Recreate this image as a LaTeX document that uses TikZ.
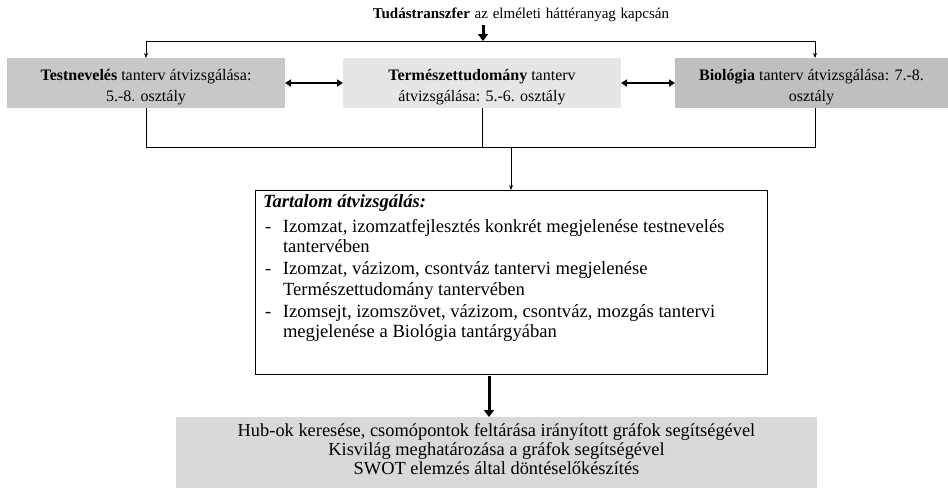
\documentclass[tikz,border=0pt]{standalone}
\usepackage{fontspec}
\setmainfont{Liberation Serif}
\usetikzlibrary{arrows.meta}
\definecolor{tesigray}{RGB}{200,200,200}
\definecolor{termgray}{RGB}{230,230,230}
\definecolor{biogray}{RGB}{191,191,191}
\definecolor{elemgray}{RGB}{217,217,217}
\newcommand{\tetel}[1]{\noindent\hangindent=20pt\hangafter=1\makebox[20pt][l]{\hspace{2pt}-}#1\par}
\begin{document}
\begin{tikzpicture}[x=1pt, y=-1pt,
            every node/.style={inner sep=0pt, outer sep=0pt},
            box/.style={rectangle, align=center, minimum height=50pt, text height=40pt, text depth=4pt,
                        font=\fontsize{16}{21}\selectfont},
            thin line/.style={draw, line width=0.8pt, -{Stealth[length=5pt, width=4pt]}},
            fat arrow/.style={draw, line width=3pt, -{Triangle[length=7pt, width=10pt]}},
            both arrow/.style={draw, line width=1.6pt, {Triangle[length=6pt, width=7pt]}-{Triangle[length=6pt, width=7pt]}}]
        \useasboundingbox (0,0) rectangle (948,488);
        \node [font=\fontsize{15}{18}\selectfont] (title) at (521,15)
            {\spaceskip=4.8pt\relax\textbf{Tudástranszfer} az elméleti háttéranyag kapcsán};
        \node [box, fill=tesigray, minimum width=278pt] (tesi) at (146,83)
            {\textbf{Testnevelés} tanterv átvizsgálása:\\5.-8. osztály};
        \node [box, fill=termgray, minimum width=278pt] (termtud) at (482,83)
            {\textbf{Természettudomány} tanterv\\átvizsgálása: 5.-6. osztály};
        \node [box, fill=biogray, minimum width=273pt] (bio) at (811.5,83)
            {\textbf{Biológia} tanterv átvizsgálása: 7.-8.\\osztály};
        \node [draw, line width=0.8pt, fill=white, anchor=north west, inner xsep=8pt,
               font=\fontsize{18.6}{20.5}\selectfont] (tartalom) at (255,190)
            {\begin{minipage}[t][184pt][t]{496pt}\parskip=0pt
             \vspace*{5pt}\noindent\textbf{\textit{Tartalom átvizsgálás:}}\par\vspace{4pt}
             \tetel{Izomzat, izomzatfejlesztés konkrét megjelenése testnevelés\newline tantervében}\vspace{1.5pt}
             \tetel{Izomzat, vázizom, csontváz tantervi megjelenése\newline Természettudomány tantervében}\vspace{1.5pt}
             \tetel{Izomsejt, izomszövet, vázizom, csontváz, mozgás tantervi\newline megjelenése a Biológia tantárgyában}
             \end{minipage}};
        \node [fill=elemgray, anchor=north west, minimum width=641pt, minimum height=71pt,
               text height=47pt, text depth=4pt,
               align=center, font=\fontsize{18.4}{19}\selectfont] (elemzes) at (176,417)
            {Hub-ok keresése, csomópontok feltárása irányított gráfok segítségével\\
             Kisvilág meghatározása a gráfok segítségével\\
             SWOT elemzés által döntéselőkészítés};
        % connectors
        \coordinate (felso) at (483,41);
        \coordinate (felsojobb) at (815,41);
        \coordinate (also) at (482,147);
        \coordinate (alsojobb) at (815,147);
        \draw [fat arrow] (483,25) -- (felso);
        \draw [line width=0.8pt] (tesi.north |- felso) -- (felsojobb);
        \draw [thin line] (tesi.north |- felso) -- (tesi.north);
        \draw [thin line] (felsojobb) -- (bio.north -| felsojobb);
        \draw [both arrow] (tesi.east) -- (termtud.west);
        \draw [both arrow] (termtud.east) -- (bio.west);
        \draw [line width=0.8pt] (tesi.south) -- (tesi.south |- also) -- (alsojobb) -- (bio.south -| alsojobb);
        \draw [line width=0.8pt] (termtud.south) -- (also);
        \coordinate (lefele) at (511,147);
        \draw [thin line] (lefele) -- (tartalom.north -| lefele);
        \coordinate (vastag) at (489,376);
        \draw [fat arrow] (vastag) -- (elemzes.north -| vastag);
\end{tikzpicture}
\end{document}
